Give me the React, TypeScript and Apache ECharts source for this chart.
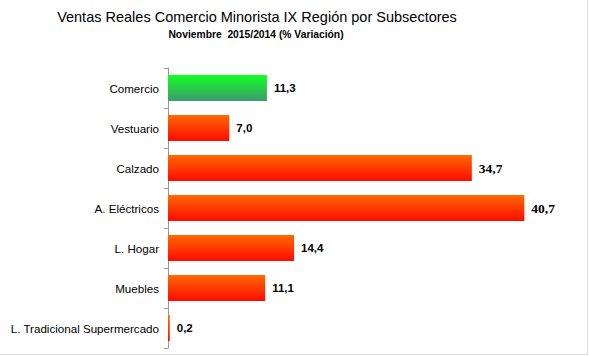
import React, { useEffect, useRef } from "react";
import * as echarts from "echarts";

const categories = [
  "Comercio",
  "Vestuario",
  "Calzado",
  "A. Eléctricos",
  "L. Hogar",
  "Muebles",
  "L. Tradicional Supermercado",
];
const values = [11.3, 7.0, 34.7, 40.7, 14.4, 11.1, 0.2];
const titleText = "Ventas Reales Comercio Minorista IX Región por Subsectores";
const subtitleText = "Noviembre  2015/2014 (% Variación)";

const green = new echarts.graphic.LinearGradient(0, 0, 0, 1, [
  { offset: 0, color: "#12ff22" },
  { offset: 1, color: "#3c9a6c" },
]);
const orange = new echarts.graphic.LinearGradient(0, 0, 0, 1, [
  { offset: 0, color: "#ff6a00" },
  { offset: 1, color: "#ff0a00" },
]);

export default function App() {
  const ref = useRef<HTMLDivElement>(null);
  useEffect(() => {
    const chart = echarts.init(ref.current!, null, { renderer: "svg" });
    chart.setOption({
      animation: false,
      backgroundColor: "#ffffff",
      grid: { left: 168, top: 68, height: 280, right: 27 },
      xAxis: { type: "value", min: 0, max: 45, show: false },
      yAxis: {
        type: "category",
        data: categories,
        inverse: true,
        axisLine: { lineStyle: { color: "#999999", width: 1 } },
        axisTick: { show: true, length: 4, lineStyle: { color: "#999999" } },
        axisLabel: {
          color: "#000000",
          fontFamily: "Liberation Sans, Arial",
          fontSize: 11.6,
          margin: 9,
        },
        splitLine: { show: false },
      },
      series: [
        {
          type: "bar",
          barWidth: 26,
          data: values.map((v, i) => ({
            value: v,
            itemStyle: { color: i === 0 ? green : orange },
            label:
              v > 30
                ? { fontFamily: "Liberation Serif", fontSize: 13.5 }
                : { fontFamily: "Liberation Sans", fontSize: 11.5 },
          })),
          label: {
            show: true,
            position: "right",
            distance: 7,
            color: "#000000",
            fontWeight: "bold",
            formatter: (p: any) => p.value.toFixed(1).replace(".", ","),
          },
        },
      ],
      graphic: [
        {
          type: "text",
          x: 257,
          y: 17,
          style: {
            text: titleText,
            fill: "#000000",
            font: "14.5px 'Liberation Sans', Arial",
            textAlign: "center",
            textVerticalAlign: "middle",
          },
        },
        {
          type: "text",
          x: 256,
          y: 34,
          style: {
            text: subtitleText,
            fill: "#000000",
            font: "bold 10.3px 'Liberation Sans', Arial",
            textAlign: "center",
            textVerticalAlign: "middle",
          },
        },
        {
          type: "line",
          shape: { x1: 587.5, y1: 0, x2: 587.5, y2: 354.5 },
          style: { stroke: "#dddddd", lineWidth: 1 },
        },
        {
          type: "line",
          shape: { x1: 0, y1: 354.5, x2: 587.5, y2: 354.5 },
          style: { stroke: "#dddddd", lineWidth: 1 },
        },
      ],
    });
    return () => chart.dispose();
  }, []);
  return (
    <div
      ref={ref}
      style={{ position: "fixed", left: 0, top: 0, width: 589, height: 356 }}
    />
  );
}
